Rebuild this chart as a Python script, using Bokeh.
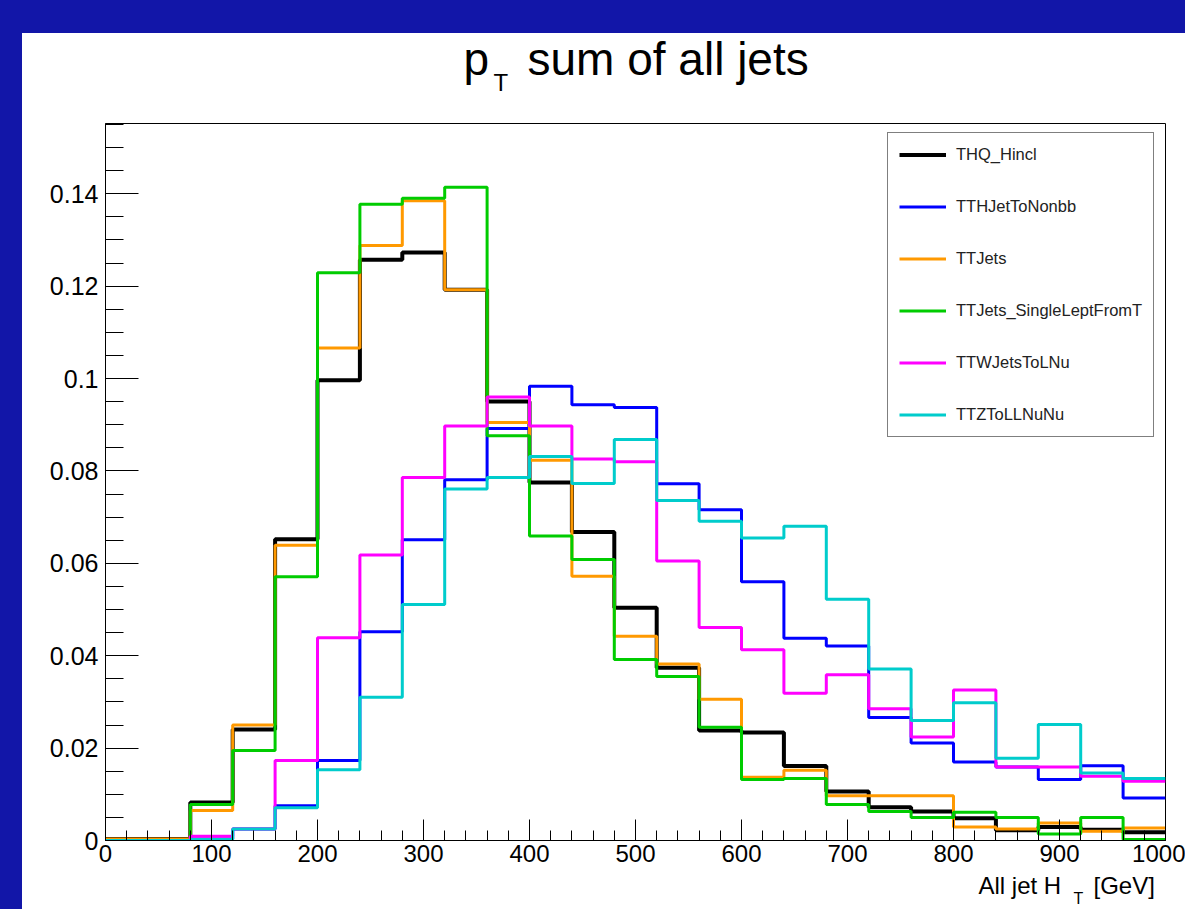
from bokeh.plotting import figure
from bokeh.layouts import row, column
from bokeh.models import Range1d, FixedTicker, Label, Legend, LegendItem, Spacer
from bokeh.embed import file_html
from bokeh.resources import INLINE

# ---- data ----
bin_edges = list(range(0, 1040, 40))
series_names = ["THQ_Hincl", "TTHJetToNonbb", "TTJets", "TTJets_SingleLeptFromT",
                "TTWJetsToLNu", "TTZToLLNuNu"]
thq = [0.0003, 0.0003, 0.0082, 0.0240, 0.0652, 0.0996, 0.1257, 0.1273, 0.1192, 0.0950,
       0.0775, 0.0668, 0.0504, 0.0374, 0.0238, 0.0234, 0.0161, 0.0106, 0.0072, 0.0063,
       0.0048, 0.0022, 0.0029, 0.0023, 0.0018]
tth = [0.0, 0.0, 0.0003, 0.0025, 0.0075, 0.0173, 0.0452, 0.0651, 0.0781, 0.0892,
       0.0983, 0.0943, 0.0937, 0.0772, 0.0716, 0.0560, 0.0438, 0.0421, 0.0266, 0.0211,
       0.0170, 0.0159, 0.0132, 0.0162, 0.0092]
ttjets = [0.0003, 0.0003, 0.0065, 0.0250, 0.0639, 0.1066, 0.1288, 0.1385, 0.1192, 0.0905,
          0.0823, 0.0572, 0.0442, 0.0382, 0.0306, 0.0137, 0.0152, 0.0097, 0.0097, 0.0097,
          0.0029, 0.0025, 0.0038, 0.0020, 0.0027]
ttjets_sl = [0.0, 0.0, 0.0078, 0.0195, 0.0571, 0.1229, 0.1377, 0.1390, 0.1414, 0.0876,
             0.0659, 0.0608, 0.0392, 0.0355, 0.0245, 0.0132, 0.0134, 0.0078, 0.0063, 0.0050,
             0.0061, 0.0050, 0.0014, 0.0050, 0.0002]
ttw = [0.0, 0.0, 0.0009, 0.0025, 0.0173, 0.0439, 0.0618, 0.0786, 0.0897, 0.0960,
       0.0897, 0.0826, 0.0820, 0.0605, 0.0461, 0.0413, 0.0319, 0.0359, 0.0285, 0.0224,
       0.0326, 0.0159, 0.0159, 0.0139, 0.0128]
ttz = [0.0, 0.0, 0.0002, 0.0025, 0.0071, 0.0153, 0.0310, 0.0511, 0.0761, 0.0786,
       0.0831, 0.0773, 0.0868, 0.0736, 0.0691, 0.0655, 0.0680, 0.0522, 0.0371, 0.0260,
       0.0298, 0.0178, 0.0251, 0.0146, 0.0134]
series_values = [thq, tth, ttjets, ttjets_sl, ttw, ttz]
series_colors = ["#000000", "#0000ff", "#ff9900", "#00cc00", "#ff00ff", "#00cccc"]
series_widths = [4, 3, 3, 3, 3, 3]

x_ticks = [0, 100, 200, 300, 400, 500, 600, 700, 800, 900, 1000]
x_minor = list(range(0, 1020, 20))
y_ticks = [0.0, 0.02, 0.04, 0.06, 0.08, 0.1, 0.12, 0.14]
y_tick_labels = ["0", "0.02", "0.04", "0.06", "0.08", "0.1", "0.12", "0.14"]
y_minor = [round(i * 0.005, 3) for i in range(32)]

FONT = "Liberation Sans"
BLUE_BG = "#1216a8"
BORDER_L = 83
BORDER_R = 20


def blank(w, h, color, left=0, right=0):
    f = figure(width=w, height=h, output_backend="svg", toolbar_location=None,
               x_axis_type=None, y_axis_type=None,
               min_border_left=left, min_border_right=right, min_border_top=0,
               min_border_bottom=0)
    f.grid.visible = False
    f.outline_line_color = None
    f.background_fill_color = color
    f.border_fill_color = color
    return f


def lab(f, x, y, text, size):
    f.add_layout(Label(x=x, y=y, x_units="screen", y_units="screen", text=text,
                       text_font=FONT, text_font_size=size, text_color="black",
                       text_baseline="alphabetic", text_align="left"))


left_strip = Spacer(width=22, height=909, styles={"background-color": BLUE_BG})
top_strip = Spacer(width=1163, height=33, styles={"background-color": BLUE_BG})

# title area (canvas y 33..123)
title_fig = blank(1163, 90, "white", BORDER_L, BORDER_R)
lab(title_fig, 358, 65, "p", "46px")
lab(title_fig, 388, 41, "T", "24px")
lab(title_fig, 422, 65, "sum of all jets", "46px")

# main plot (canvas y 123..872)
main = figure(width=1163, height=749, output_backend="svg", toolbar_location=None,
              x_range=Range1d(0, 1000), y_range=Range1d(0, 0.1552),
              min_border_left=BORDER_L, min_border_right=BORDER_R, min_border_top=0,
              min_border_bottom=32)
main.xgrid.visible = False
main.ygrid.visible = False
main.outline_line_color = "black"
main.outline_line_width = 1
main.background_fill_color = "white"
main.border_fill_color = "white"

for ax in (main.xaxis[0], main.yaxis[0]):
    ax.axis_line_color = "black"
    ax.major_tick_line_color = "black"
    ax.minor_tick_line_color = "black"
    ax.major_tick_out = 0
    ax.minor_tick_out = 0
    ax.major_label_text_font = FONT
    ax.major_label_text_color = "black"

main.xaxis.major_label_text_font_size = "24px"
main.yaxis.major_label_text_font_size = "25px"
main.xaxis.ticker = FixedTicker(ticks=x_ticks, minor_ticks=x_minor)
main.xaxis.major_tick_in = 21
main.xaxis.minor_tick_in = 10
main.xaxis.major_label_standoff = 4

main.yaxis.ticker = FixedTicker(ticks=y_ticks, minor_ticks=y_minor)
main.yaxis.major_label_overrides = dict(zip(y_ticks, y_tick_labels))
main.yaxis.major_tick_in = 33
main.yaxis.minor_tick_in = 18
main.yaxis.major_label_standoff = 7

items = []
for name, vals, col, w in zip(series_names, series_values, series_colors, series_widths):
    r = main.step(x=bin_edges, y=vals + [vals[-1]], mode="after",
                  line_color=col, line_width=w)
    items.append(LegendItem(label=name, renderers=[r]))

legend = Legend(items=items, location=(782, 403), border_line_color="black",
                border_line_width=1, background_fill_color="white",
                background_fill_alpha=1.0, padding=11, margin=0, spacing=31,
                label_height=21, glyph_height=21, glyph_width=47, label_standoff=10,
                label_text_font=FONT, label_text_font_size="16.5px",
                label_text_color="#222222")
main.add_layout(legend)

# x-axis title area (canvas y 872..909)
xlabel_fig = blank(1163, 37, "white", BORDER_L, BORDER_R)
lab(xlabel_fig, 873, 24, "All jet H", "24px")
lab(xlabel_fig, 968, 11, "T", "16px")
lab(xlabel_fig, 988, 24, "[GeV]", "24px")

p = row(left_strip, column(top_strip, title_fig, main, xlabel_fig, spacing=0), spacing=0)

open("out.html", "w").write(file_html(p, INLINE))
